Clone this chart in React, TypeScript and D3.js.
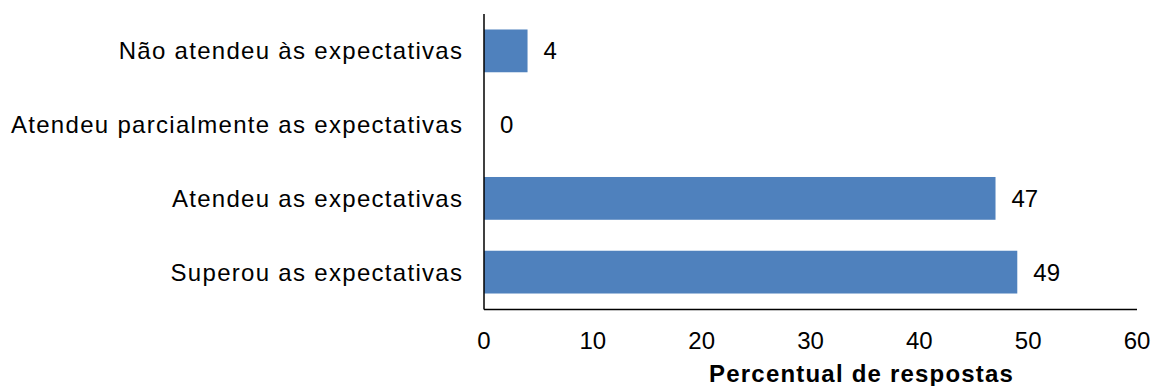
import React from "react";
import * as d3 from "d3";

const categories = [
  "Não atendeu às expectativas",
  "Atendeu parcialmente as expectativas",
  "Atendeu as expectativas",
  "Superou as expectativas",
];
const values = [4, 0, 47, 49];
const xTicks = [0, 10, 20, 30, 40, 50, 60];
const xTitle = "Percentual de respostas";

const font = "Liberation Sans, Arial, sans-serif";

export default function App() {
  const W = 1154, H = 386;
  const x = d3.scaleLinear().domain([0, 60]).range([484, 1137]);
  const y = d3.scaleBand().domain(categories).range([14, 309]).paddingInner(0.42).paddingOuter(0.21);
  const labelSize = 24;
  const labelSpacing = 1.3;
  const titleSpacing = 1.2;
  return (
    <svg width={W} height={H} style={{ position: "absolute", left: 0, top: 0 }} fontFamily={font}>
      {categories.map((c, i) => (
        <g key={c}>
          {values[i] > 0 && (
            <rect x={x(0)} y={y(c)!} width={x(values[i]) - x(0)} height={y.bandwidth()} fill="#4F81BD" />
          )}
          <text x={x(values[i]) + 16} y={y(c)! + y.bandwidth() / 2} dy="0.35em" fontSize={24} fill="#000">
            {values[i]}
          </text>
          <text x={462 + labelSpacing} y={y(c)! + y.bandwidth() / 2} dy="0.35em" fontSize={labelSize} letterSpacing={labelSpacing} textAnchor="end" fill="#000">
            {c}
          </text>
        </g>
      ))}
      <line x1={x(0)} x2={x(0)} y1={14} y2={309.5} stroke="#000" strokeWidth={1.5} />
      <line x1={x(0)} x2={x(60)} y1={309.5} y2={309.5} stroke="#000" strokeWidth={1.5} />
      {xTicks.map((t) => (
        <text key={t} x={x(t)} y={341} dy="0.35em" fontSize={24} textAnchor="middle" fill="#000">
          {t}
        </text>
      ))}
      <text x={861 + titleSpacing / 2} y={382} fontSize={24} fontWeight="bold" letterSpacing={titleSpacing} textAnchor="middle" fill="#000">
        {xTitle}
      </text>
    </svg>
  );
}
